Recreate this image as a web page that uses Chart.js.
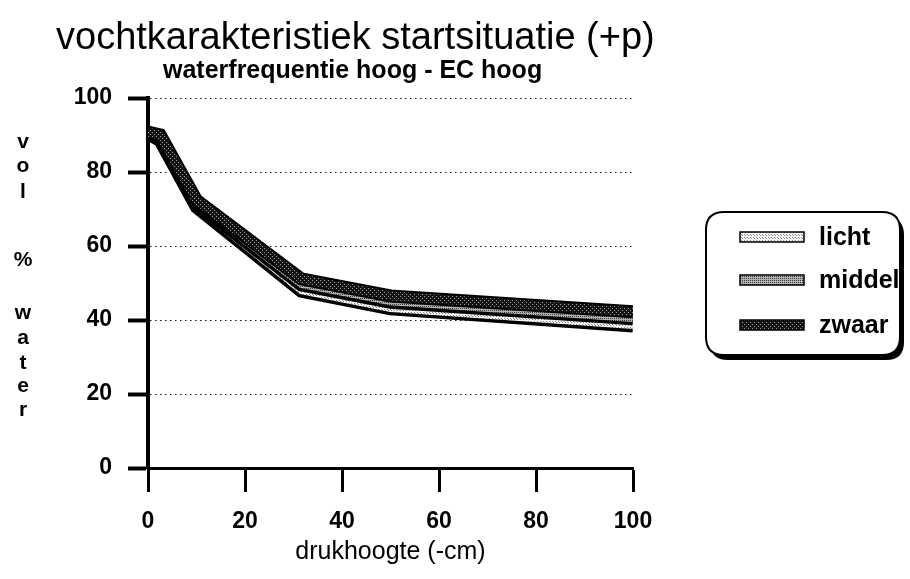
<!DOCTYPE html>
<html>
<head>
<meta charset="utf-8">
<script src="https://cdn.jsdelivr.net/npm/chart.js@4/dist/chart.umd.min.js"></script>
<style>
  html, body { margin: 0; padding: 0; background: #ffffff; }
  #wrap { width: 910px; height: 579px; position: relative; }
</style>
</head>
<body>
<div id="wrap"><canvas id="c" width="910" height="579"></canvas></div>
<script>
// ---- data ----
const titleText = 'vochtkarakteristiek startsituatie (+p)';
const subtitleText = 'waterfrequentie hoog - EC hoog';
const xAxisTitle = 'drukhoogte (-cm)';
const yAxisTitleLetters = ['v', 'o', 'l', '', '%', '', 'w', 'a', 't', 'e', 'r'];
const seriesNames = ['licht', 'middel', 'zwaar'];
const drukhoogte = [0, 2.5, 10, 31.6, 50, 100];
const licht  = [90.3, 88.5, 70.5, 47.8, 43.0, 38.4];
const middel = [90.5, 89.2, 71.5, 49.5, 44.8, 40.3];
const zwaar  = [90.8, 90.0, 72.4, 51.1, 46.5, 42.2];
const xTicks = [0, 20, 40, 60, 80, 100];
const yTicks = [0, 20, 40, 60, 80, 100];

const FONT = '"Liberation Sans", Arial, Helvetica, sans-serif';
Chart.defaults.font.family = FONT;
Chart.defaults.color = '#000';

function makePattern(base, dot, step) {
  const p = document.createElement('canvas');
  p.width = step; p.height = step;
  const g = p.getContext('2d');
  g.fillStyle = base; g.fillRect(0, 0, step, step);
  g.fillStyle = dot; g.fillRect(0, 0, 1, 1);
  if (step > 2) g.fillRect(Math.floor(step / 2), Math.floor(step / 2), 1, 1);
  return document.createElement('canvas').getContext('2d').createPattern(p, 'repeat');
}
const fills = {
  licht: makePattern('#f4f4f4', '#8a8a8a', 3),
  middel: makePattern('#b0b0b0', '#404040', 2),
  zwaar: makePattern('#141414', '#9a9a9a', 4)
};
const seriesData = { licht: licht, middel: middel, zwaar: zwaar };

// datasets: index 0 is drawn last (on top) -> zwaar first
const datasets = [];
['zwaar', 'middel', 'licht'].forEach(name => {
  const pts = drukhoogte.map((x, i) => ({ x: x, y: seriesData[name][i] }));
  datasets.push({ label: name, data: pts, borderColor: fills[name], borderWidth: name === 'zwaar' ? 9 : 6,
    pointRadius: 0, tension: 0, borderJoinStyle: 'miter', borderCapStyle: 'butt', fill: false });
  datasets.push({ label: name + '-rand', data: pts, borderColor: '#000', borderWidth: 13,
    pointRadius: 0, tension: 0, borderJoinStyle: 'miter', borderCapStyle: 'butt', fill: false });
});

function roundRect(ctx, x, y, w, h, r) {
  ctx.beginPath();
  ctx.moveTo(x + r, y);
  ctx.lineTo(x + w - r, y); ctx.quadraticCurveTo(x + w, y, x + w, y + r);
  ctx.lineTo(x + w, y + h - r); ctx.quadraticCurveTo(x + w, y + h, x + w - r, y + h);
  ctx.lineTo(x + r, y + h); ctx.quadraticCurveTo(x, y + h, x, y + h - r);
  ctx.lineTo(x, y + r); ctx.quadraticCurveTo(x, y, x + r, y);
  ctx.closePath();
}

const decor = {
  id: 'decor',
  afterDraw(chart) {
    const ctx = chart.ctx;
    ctx.save();
    ctx.fillStyle = '#000';
    // title
    ctx.textBaseline = 'alphabetic';
    ctx.textAlign = 'left';
    ctx.font = '38px ' + FONT;
    ctx.fillText(titleText, 56, 49);
    ctx.font = 'bold 25px ' + FONT;
    ctx.fillText(subtitleText, 163, 78);
    // vertical y title
    ctx.font = 'bold 21px ' + FONT;
    ctx.textAlign = 'center';
    ctx.textBaseline = 'middle';
    const yPos = [142, 166, 192, 226, 260, 287, 313, 338, 363, 386, 410];
    yAxisTitleLetters.forEach((ch, i) => { if (ch) ctx.fillText(ch, 23, yPos[i]); });
    // legend box
    const bx = 706, by = 212, bw = 194, bh = 143;
    ctx.fillStyle = '#000';
    roundRect(ctx, bx + 4, by + 5, bw, bh, 18); ctx.fill();
    ctx.fillStyle = '#fff';
    roundRect(ctx, bx, by, bw, bh, 18); ctx.fill();
    ctx.lineWidth = 2; ctx.strokeStyle = '#000';
    roundRect(ctx, bx, by, bw, bh, 18); ctx.stroke();
    const itemY = [237, 280, 325];
    ctx.font = 'bold 25px ' + FONT;
    ctx.textAlign = 'left';
    seriesNames.forEach((name, i) => {
      const y = itemY[i];
      ctx.fillStyle = fills[name];
      ctx.fillRect(740, y - 5, 64, 10);
      ctx.lineWidth = 1.5; ctx.strokeStyle = '#000';
      ctx.strokeRect(740, y - 5, 64, 10);
      ctx.fillStyle = '#000';
      ctx.fillText(name, 819, y + 1);
    });
    ctx.restore();
  }
};

new Chart(document.getElementById('c'), {
  type: 'line',
  data: { datasets: datasets },
  plugins: [decor],
  options: {
    responsive: false,
    animation: false,
    devicePixelRatio: 1,
    layout: { padding: { top: 98, right: 277, left: 0, bottom: 0 } },
    plugins: { legend: { display: false }, title: { display: false }, tooltip: { enabled: false } },
    scales: {
      x: {
        type: 'linear', min: 0, max: 100,
        afterBuildTicks: s => { s.ticks = xTicks.map(v => ({ value: v })); },
        afterFit: s => { s.height = 111; },
        border: { display: true, color: '#000', width: 3 },
        grid: { drawOnChartArea: false, tickLength: 24, tickWidth: 3, tickColor: '#000' },
        ticks: { padding: 16, font: { size: 23, weight: 'bold' }, color: '#000', maxRotation: 0 },
        title: { display: true, text: xAxisTitle, font: { size: 25 }, color: '#000', padding: { top: 0, bottom: 12 } }
      },
      y: {
        type: 'linear', min: 0, max: 100,
        afterBuildTicks: s => { s.ticks = yTicks.map(v => ({ value: v })); },
        afterFit: s => { s.width = 148; },
        border: { display: true, color: '#000', width: 4, dash: [1.5, 3.5] },
        grid: { color: '#111', lineWidth: 1, tickLength: 20, tickWidth: 4,
                tickColor: '#000', tickBorderDash: [] },
        ticks: { padding: 16, font: { size: 23, weight: 'bold' }, color: '#000' }
      }
    }
  }
});
</script>
</body>
</html>
